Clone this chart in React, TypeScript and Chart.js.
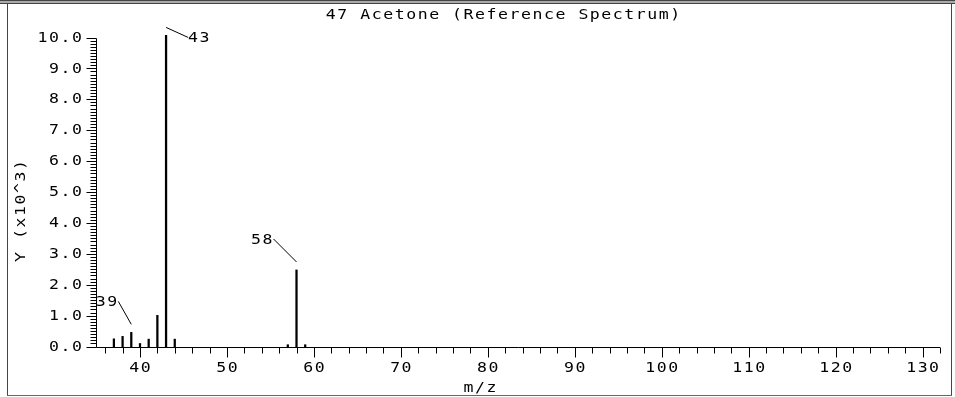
import React, { useEffect, useRef } from "react";
import { Chart, registerables } from "chart.js";

Chart.register(...registerables);

// ---- data ----
const mzValues = [37, 38, 39, 40, 41, 42, 43, 44, 57, 58, 59];
const intensities = [0.28, 0.36, 0.49, 0.13, 0.27, 1.04, 10.1, 0.27, 0.09, 2.51, 0.09];
const xTickValues = [40, 50, 60, 70, 80, 90, 100, 110, 120, 130];
const yTickValues = [0, 1, 2, 3, 4, 5, 6, 7, 8, 9, 10];
const labeledPeaks = [39, 43, 58];
const chartTitle = "47 Acetone (Reference Spectrum)";
const xAxisTitle = "m/z";
const yAxisTitle = "Y (x10^3)";
const X_MIN = 35;
const X_MAX = 132;
const Y_MIN = 0;
const Y_MAX = 10;
const X_MINOR_STEP = 2;
const Y_MINOR_STEP = 0.1;

// ---- style ----
const FONT_FAMILY = '"DejaVu Sans Mono", "Liberation Mono", monospace';
const FONT_SIZE = 14;
const LETTER_SPACING = 1.3; // in scaled units
const SCALE_X = 1.18;
const FONT = `${FONT_SIZE}px ${FONT_FAMILY}`;
const W = 955;
const H = 397;
const labelStyle: Record<number, { dx: number; dy: number; align: CanvasTextAlign }> = {
  39: { dx: -13, dy: -23, align: "right" },
  43: { dx: 22, dy: 10, align: "left" },
  58: { dx: -23, dy: -23, align: "right" },
};

function drawText(
  ctx: CanvasRenderingContext2D,
  text: string,
  x: number,
  y: number,
  align: CanvasTextAlign,
  rotate = 0
) {
  ctx.save();
  ctx.font = FONT;
  try {
    (ctx as any).letterSpacing = `${LETTER_SPACING}px`;
  } catch (e) {}
  ctx.fillStyle = "#000";
  ctx.textBaseline = "middle";
  ctx.textAlign = align;
  let ox = 0;
  if (align === "center") ox = LETTER_SPACING / 2;
  if (align === "right") ox = LETTER_SPACING;
  ctx.translate(x, y);
  if (rotate) ctx.rotate(rotate);
  ctx.scale(SCALE_X, 1);
  ctx.fillText(text, ox, 0);
  ctx.restore();
}

const spectrumPlugin = {
  id: "spectrumDecor",
  beforeDraw(chart: any) {
    const ctx = chart.ctx as CanvasRenderingContext2D;
    ctx.save();
    ctx.fillStyle = "#fff";
    ctx.fillRect(0, 0, W, H);
    ctx.restore();
  },
  afterDraw(chart: any) {
    const ctx = chart.ctx as CanvasRenderingContext2D;
    const xs = chart.scales.x;
    const ys = chart.scales.y;
    const area = chart.chartArea;

    // frame
    ctx.save();
    ctx.fillStyle = "#444";
    ctx.fillRect(0, 0, W, 1);
    ctx.fillStyle = "#aaa";
    ctx.fillRect(0, 1, W, 2);
    ctx.fillStyle = "#444";
    ctx.fillRect(0, 3, W, 1);
    ctx.fillRect(7, 4, 1, 392);
    ctx.fillRect(951, 4, 1, 392);
    ctx.fillStyle = "#666";
    ctx.fillRect(7, 395, 945, 1);
    ctx.restore();

    // axes
    ctx.save();
    ctx.strokeStyle = "#000";
    ctx.lineWidth = 1;
    ctx.beginPath();
    const y0 = ys.getPixelForValue(Y_MIN);
    ctx.moveTo(area.left, ys.getPixelForValue(Y_MAX));
    ctx.lineTo(area.left, y0);
    ctx.moveTo(area.left, y0);
    ctx.lineTo(xs.getPixelForValue(X_MAX), y0);
    // y ticks
    const perUnit = Math.round(1 / Y_MINOR_STEP);
    const nY = Math.round((Y_MAX - Y_MIN) / Y_MINOR_STEP);
    for (let i = 0; i <= nY; i++) {
      const v = Y_MIN + i * Y_MINOR_STEP;
      const len = i % perUnit === 0 ? 10 : 6;
      const py = Math.round(ys.getPixelForValue(v)) - 0.5;
      ctx.moveTo(area.left, py);
      ctx.lineTo(area.left - len, py);
    }
    // x ticks
    for (let v = Math.ceil(X_MIN / X_MINOR_STEP) * X_MINOR_STEP; v <= X_MAX; v += X_MINOR_STEP) {
      const len = v % 10 === 0 ? 10 : 6;
      const px = Math.round(xs.getPixelForValue(v)) + 0.5;
      ctx.moveTo(px, y0);
      ctx.lineTo(px, y0 + len);
    }
    ctx.stroke();

    // tick labels from the scales' ticks
    xs.ticks.forEach((t: any) => {
      drawText(ctx, String(Math.round(t.value)), xs.getPixelForValue(t.value), y0 + 21, "center");
    });
    ys.ticks.forEach((t: any) => {
      drawText(ctx, Number(t.value).toFixed(1), area.left - 14.5, ys.getPixelForValue(t.value) - 0.5, "right");
    });

    // peak labels
    ctx.beginPath();
    labeledPeaks.forEach((mz) => {
      const idx = mzValues.indexOf(mz);
      if (idx < 0) return;
      const st = labelStyle[mz];
      const px = xs.getPixelForValue(mz);
      const top = ys.getPixelForValue(intensities[idx]);
      const sx = px;
      const sy = top - 8;
      const ex = sx + st.dx;
      const ey = sy + st.dy;
      ctx.moveTo(sx, sy);
      ctx.lineTo(ex, ey);
      const tx = st.align === "right" ? ex - 1 : ex;
      drawText(ctx, String(mz), tx, ey + 1, st.align);
    });
    ctx.stroke();
    ctx.restore();

    // titles
    drawText(ctx, chartTitle, 503, 15, "center");
    drawText(ctx, xAxisTitle, 480, 388, "center");
    drawText(ctx, yAxisTitle, 21, 211, "center", -Math.PI / 2);
  },
};

export default function App() {
  const canvasRef = useRef<HTMLCanvasElement | null>(null);

  useEffect(() => {
    document.body.style.margin = "0";
    const canvas = canvasRef.current;
    if (!canvas) return;
    const chart = new Chart(canvas, {
      type: "bar",
      data: {
        datasets: [
          {
            data: mzValues.map((x, i) => ({ x, y: intensities[i] })),
            backgroundColor: "#000",
            borderWidth: 0,
            barThickness: 1.6,
            clip: false as any,
          },
        ],
      },
      options: {
        animation: false,
        responsive: false,
        devicePixelRatio: 1,
        layout: { padding: { top: 38.5, right: 15, left: 0, bottom: 0 } },
        plugins: {
          legend: { display: false },
          tooltip: { enabled: false },
          title: { display: false },
        },
        scales: {
          x: {
            type: "linear",
            min: X_MIN,
            max: X_MAX,
            offset: false,
            grid: { display: false, drawTicks: false },
            border: { display: false },
            afterBuildTicks: (scale: any) => {
              scale.ticks = xTickValues.map((v) => ({ value: v }));
            },
            afterFit: (scale: any) => {
              scale.height = H - 347.5;
            },
            ticks: { display: false, autoSkip: false },
          },
          y: {
            type: "linear",
            min: Y_MIN,
            max: Y_MAX,
            grid: { display: false, drawTicks: false },
            border: { display: false },
            afterBuildTicks: (scale: any) => {
              scale.ticks = yTickValues.map((v) => ({ value: v }));
            },
            afterFit: (scale: any) => {
              scale.width = 96.5;
            },
            ticks: { display: false, autoSkip: false },
          },
        },
      },
      plugins: [spectrumPlugin],
    } as any);
    return () => chart.destroy();
  }, []);

  return (
    <div style={{ position: "fixed", left: 0, top: 0, width: W, height: H, background: "#fff" }}>
      <canvas ref={canvasRef} width={W} height={H} style={{ width: W, height: H, display: "block" }} />
    </div>
  );
}
